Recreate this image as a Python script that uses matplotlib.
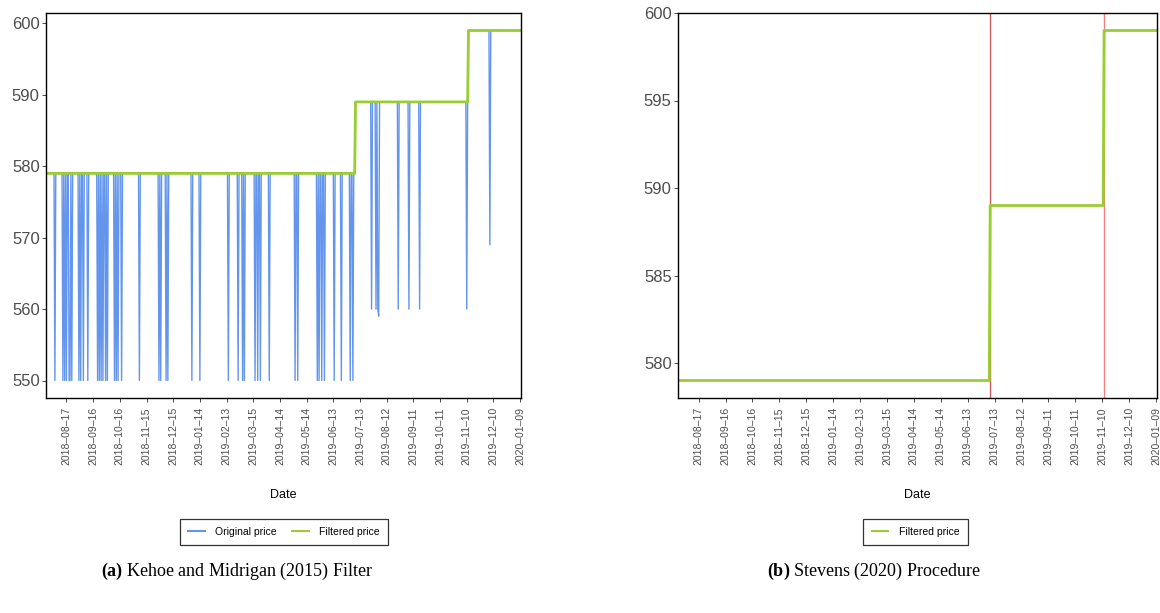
import numpy as np
import pandas as pd
import matplotlib
matplotlib.use('Agg')
import matplotlib.pyplot as plt
from matplotlib.lines import Line2D

plt.rcParams['font.family'] = ['Liberation Sans', 'DejaVu Sans']
plt.rcParams['mathtext.fontset'] = 'custom'
plt.rcParams['mathtext.bf'] = 'Liberation Serif:bold'
plt.rcParams['mathtext.rm'] = 'Liberation Serif'

# =============================================================================
# Data
# =============================================================================
start_date = '2018-07-25'
end_date   = '2020-01-10'

# filtered (regular) price: level changes
change_dates    = ['2019-07-08', '2019-11-12']
filtered_levels = [579, 589, 599]

# temporary sales in the original price
sale_dates = ['2018-08-04', '2018-08-13', '2018-08-15', '2018-08-17', '2018-08-20',
              '2018-08-21', '2018-08-23', '2018-08-31', '2018-09-02', '2018-09-05',
              '2018-09-10', '2018-09-21', '2018-09-23', '2018-09-25', '2018-09-27',
              '2018-09-30', '2018-10-02', '2018-10-10', '2018-10-12', '2018-10-14',
              '2018-10-18', '2018-11-07', '2018-11-29', '2018-12-01', '2018-12-07',
              '2018-12-09', '2019-01-05', '2019-01-14', '2019-02-15', '2019-02-26',
              '2019-03-03', '2019-03-05', '2019-03-17', '2019-03-20', '2019-03-23',
              '2019-04-02', '2019-05-01', '2019-05-04', '2019-05-26', '2019-05-28',
              '2019-05-31', '2019-06-03', '2019-06-14', '2019-06-22', '2019-07-02',
              '2019-07-05',
              '2019-07-26', '2019-07-31', '2019-08-02', '2019-08-03', '2019-08-25',
              '2019-09-06', '2019-09-18', '2019-11-10',
              '2019-12-06']
sale_prices = [550] * 46 + [560, 560, 560, 559, 560, 560, 560, 560] + [569]

# structural breaks (right panel)
break_dates  = ['2019-07-08', '2019-11-12']
break_colors = ['#CD5C5C', '#F08080']

# =============================================================================
# Build daily series
# =============================================================================
days = pd.date_range(start_date, end_date, freq='D')
filtered = np.full(len(days), float(filtered_levels[0]))
for d, lvl in zip(change_dates, filtered_levels[1:]):
    filtered[days >= pd.Timestamp(d)] = lvl

original = filtered.copy()
for d, p in zip(sale_dates, sale_prices):
    original[days == pd.Timestamp(d)] = p

tick_dates = pd.date_range('2018-08-17', '2020-01-09', freq='30D')

blue  = '#6495ED'
green = '#9ACD32'
grey  = '#4D4D4D'

# =============================================================================
# Figure
# =============================================================================
fig = plt.figure(figsize=(11.6, 6.13), dpi=100)
W, H = 1160, 613

def make_ax(x0, x1, y0=13, y1=398):
    return fig.add_axes([x0 / W, 1 - y1 / H, (x1 - x0) / W, (y1 - y0) / H])

def style_ax(ax):
    ax.set_xlim(days[0], days[-1])
    ax.set_xticks(tick_dates)
    ax.set_xticklabels([t.strftime('%Y\u2013%m\u2013%d') for t in tick_dates],
                       rotation=90, fontsize=7.5, color=grey)
    ax.tick_params(axis='both', length=3, width=0.6, color='#333333')
    ax.tick_params(axis='y', labelsize=12, labelcolor=grey, pad=1.5)
    for s in ax.spines.values():
        s.set_linewidth(1.0)
        s.set_color('black')

# left panel
ax1 = make_ax(46, 521)
ax1.plot(days, original, color=blue, lw=1.0)
ax1.plot(days, filtered, color=green, lw=2.0)
ax1.set_ylim(547.55, 601.45)
ax1.set_yticks([550, 560, 570, 580, 590, 600])
style_ax(ax1)

# right panel
ax2 = make_ax(678, 1157)
for d, c in zip(break_dates, break_colors):
    ax2.axvline(pd.Timestamp(d), color=c, lw=1.0)
ax2.plot(days, filtered, color=green, lw=2.0)
ax2.set_ylim(578, 600)
ax2.set_yticks([580, 585, 590, 595, 600])
style_ax(ax2)

# axis titles
fig.text(283.5 / W, 1 - 495 / H, 'Date', ha='center', va='center', fontsize=9)
fig.text(917.5 / W, 1 - 495 / H, 'Date', ha='center', va='center', fontsize=9)

# legends
h_orig = Line2D([], [], color=blue, lw=1.5)
h_filt = Line2D([], [], color=green, lw=1.5)
leg1 = fig.legend([h_orig, h_filt], ['Original price', 'Filtered price'],
                  loc='center', bbox_to_anchor=(284 / W, 1 - 532 / H), ncol=2,
                  fontsize=7.5, frameon=True, fancybox=False, handlelength=1.6,
                  columnspacing=1.5, borderpad=0.8, handletextpad=1.0)
leg1.get_frame().set_edgecolor('black')
leg1.get_frame().set_linewidth(0.9)
leg2 = fig.legend([h_filt], ['Filtered price'],
                  loc='center', bbox_to_anchor=(915.5 / W, 1 - 532 / H), ncol=1,
                  fontsize=7.5, frameon=True, fancybox=False, handlelength=1.6,
                  borderpad=0.8, handletextpad=1.0)
leg2.get_frame().set_edgecolor('black')
leg2.get_frame().set_linewidth(0.9)

# captions
cap_font = dict(family='Liberation Serif', fontsize=13)
fig.text(237 / W, 1 - 571 / H, r'$\bf{(a)}$ Kehoe and Midrigan (2015) Filter',
         ha='center', va='center', **cap_font)
fig.text(874 / W, 1 - 571 / H, r'$\bf{(b)}$ Stevens (2020) Procedure',
         ha='center', va='center', **cap_font)

fig.savefig('out.png', dpi=100)
